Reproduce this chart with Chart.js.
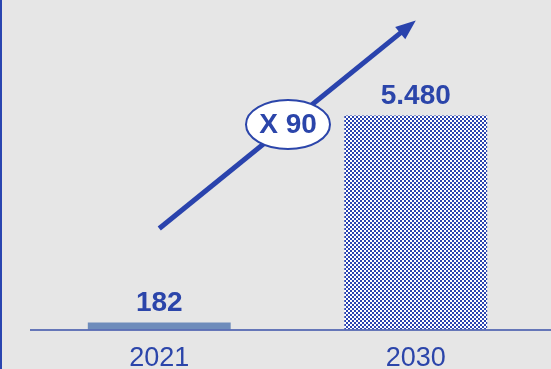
<!DOCTYPE html>
<html>
<head>
<meta charset="utf-8">
<script src="https://cdn.jsdelivr.net/npm/chart.js@4/dist/chart.umd.min.js"></script>
<style>
  html, body { margin: 0; padding: 0; background: #e6e6e6; }
  #wrap { width: 551px; height: 369px; position: relative; }
</style>
</head>
<body>
<div id="wrap"><canvas id="c" width="551" height="369"></canvas></div>
<script>
const categories = ["2021", "2030"];
const values = [182, 5480];
const multiplierLabel = "X 90";

const BLUE = "#2b45aa";
const FONT = "'Liberation Sans', Arial, sans-serif";

function fmt(v) {
  return String(v).replace(/\B(?=(\d{3})+(?!\d))/g, ".");
}

function makePattern() {
  const p = document.createElement("canvas");
  p.width = 4; p.height = 4;
  const g = p.getContext("2d");
  g.fillStyle = "#ffffff";
  g.fillRect(0, 0, 4, 4);
  g.fillStyle = "#2a44b0";
  g.fillRect(0, 0, 2, 2);
  g.fillRect(2, 2, 2, 2);
  return document.getElementById("c").getContext("2d").createPattern(p, "repeat");
}

const decor = {
  id: "decor",
  beforeDraw(chart) {
    const ctx = chart.ctx;
    ctx.save();
    ctx.fillStyle = "#e6e6e6";
    ctx.fillRect(0, 0, chart.width, chart.height);
    ctx.fillStyle = "#2a45b0";
    ctx.fillRect(0, 0, 2, chart.height);
    ctx.restore();
  },
  afterDatasetsDraw(chart) {
    const ctx = chart.ctx;
    const y = chart.scales.y;
    const meta = chart.getDatasetMeta(0);
    const y0 = y.getPixelForValue(0);
    ctx.save();
    // axis line
    ctx.strokeStyle = "#3a50a8";
    ctx.lineWidth = 1.5;
    ctx.beginPath();
    ctx.moveTo(30, y0 + 0.5);
    ctx.lineTo(chart.width, y0 + 0.5);
    ctx.stroke();
    // value labels
    ctx.fillStyle = BLUE;
    ctx.font = "bold 28px " + FONT;
    ctx.textAlign = "center";
    ctx.textBaseline = "alphabetic";
    meta.data.forEach((bar, i) => {
      ctx.fillText(fmt(values[i]), bar.x, bar.y - 11);
    });
    // arrow
    const b0 = meta.data[0], b1 = meta.data[1];
    const sx = b0.x, sy = y0 - 101;
    const ex = b1.x, ey = y0 - 309;
    const ang = Math.atan2(ey - sy, ex - sx);
    const headLen = 20, headW = 8;
    const bx = ex - Math.cos(ang) * headLen, by = ey - Math.sin(ang) * headLen;
    ctx.strokeStyle = "#2a43ad";
    ctx.lineWidth = 5;
    ctx.lineCap = "butt";
    ctx.beginPath();
    ctx.moveTo(sx, sy);
    ctx.lineTo(bx + Math.cos(ang) * 2, by + Math.sin(ang) * 2);
    ctx.stroke();
    ctx.fillStyle = "#2a43ad";
    ctx.beginPath();
    ctx.moveTo(ex, ey);
    ctx.lineTo(bx + Math.sin(ang) * headW, by - Math.cos(ang) * headW);
    ctx.lineTo(bx - Math.sin(ang) * headW, by + Math.cos(ang) * headW);
    ctx.closePath();
    ctx.fill();
    // ellipse with multiplier
    const cx = (sx + ex) / 2 + 0.5, cy = (sy + ey) / 2;
    ctx.beginPath();
    ctx.ellipse(cx, cy, 42, 24.5, 0, 0, Math.PI * 2);
    ctx.fillStyle = "#ffffff";
    ctx.fill();
    ctx.lineWidth = 2;
    ctx.strokeStyle = BLUE;
    ctx.stroke();
    ctx.fillStyle = BLUE;
    ctx.font = "bold 28px " + FONT;
    ctx.textAlign = "center";
    ctx.textBaseline = "middle";
    ctx.fillText(multiplierLabel, cx, cy + 1);
    ctx.restore();
  }
};

new Chart(document.getElementById("c"), {
  type: "bar",
  data: {
    labels: categories,
    datasets: [{
      data: values,
      backgroundColor: ["#6e8cbb", makePattern()],
      borderWidth: 0,
      barPercentage: 0.557,
      categoryPercentage: 1
    }]
  },
  options: {
    responsive: false,
    animation: false,
    events: [],
    layout: { padding: { left: 31, right: 7, top: 17, bottom: -19.5 } },
    plugins: { legend: { display: false }, tooltip: { enabled: false } },
    scales: {
      x: {
        grid: { display: false, drawTicks: false },
        border: { display: false },
        ticks: {
          color: BLUE,
          font: { family: FONT, size: 27, lineHeight: 1 },
          padding: 16
        }
      },
      y: {
        display: false,
        min: 0,
        max: 8000
      }
    }
  },
  plugins: [decor]
});
</script>
</body>
</html>
